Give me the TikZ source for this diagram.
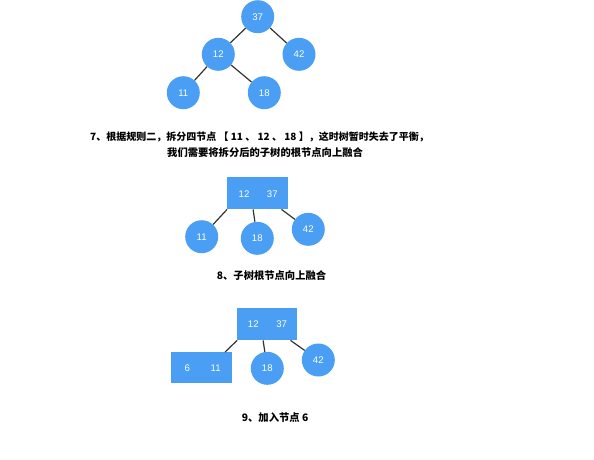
\documentclass[tikz,border=0pt]{standalone}
\usepackage{fontspec}
\setmainfont{Liberation Sans}
\newfontfamily\cjk{Noto Sans CJK SC}
\definecolor{nodeblue}{HTML}{4A9FF5}
\definecolor{edgegray}{HTML}{333333}
\tikzset{
  bnode/.style={circle, fill=nodeblue, minimum size=33pt, inner sep=0pt, text=white, font=\fontsize{9.6}{11}\selectfont},
  bbox/.style={rectangle, fill=nodeblue, inner sep=0pt, text=white, font=\fontsize{9.6}{11}\selectfont},
  num/.style={text=white, font=\fontsize{9.6}{11}\selectfont, inner sep=0pt},
  edge/.style={draw=edgegray, line width=1.2pt},
  captext/.style={font=\cjk\bfseries\fontsize{10.3}{12}\selectfont, inner sep=0pt, anchor=west}
}
\begin{document}
\begin{tikzpicture}[x=1pt, y=-1pt]
\useasboundingbox (0,0) rectangle (594,459);
% ---- figure 7 ----
\node[bnode] (a37) at (257.7,16.7) {37};
\node[bnode] (a12) at (218.3,54.3) {12};
\node[bnode] (a42) at (299,54.3) {42};
\node[bnode] (a11) at (183.3,92.7) {11};
\node[bnode] (a18) at (264.3,92.7) {18};
\draw[edge] (a37) -- (a12);
\draw[edge] (a37) -- (a42);
\draw[edge] (a12) -- (a11);
\draw[edge] (a12) -- (a18);
\node[captext, font=\cjk\bfseries\fontsize{10}{12}\selectfont] (t7a) at (90,137) {7、根据规则二，拆分四节点 【 11 、 12 、 18 】，这时树暂时失去了平衡，};
\node[captext] (t7b) at (167,152.5) {我们需要将拆分后的子树的根节点向上融合};
% ---- figure 8 ----
\node[bbox, minimum width=61pt, minimum height=32pt] (b1237) at (257.8,193.2) {};
\node[num] (b12) at (244,194) {12};
\node[num] (b37) at (272.3,194) {37};
\node[bnode] (b11) at (201.7,236.7) {11};
\node[bnode] (b18) at (257.3,238.3) {18};
\node[bnode] (b42) at (308.3,229.3) {42};
\draw[edge] (b1237.south west) -- (b11);
\draw[edge] ([xshift=26pt]b1237.south west) -- (b18);
\draw[edge] ([xshift=-7pt]b1237.south east) -- (b42);
\node[captext] (t8) at (216.7,276) {8、子树根节点向上融合};
% ---- figure 9 ----
\node[bbox, minimum width=60pt, minimum height=32pt] (c1237) at (267.3,324.2) {};
\node[num] (c12) at (253.3,324.3) {12};
\node[num] (c37) at (281.7,324.3) {37};
\node[bbox, minimum width=61pt, minimum height=31pt] (c611) at (201.3,367.8) {};
\node[num] (c6) at (187.3,368.3) {6};
\node[num] (c11) at (215.7,368.3) {11};
\node[bnode] (c18) at (267.3,368.3) {18};
\node[bnode] (c42) at (318.3,360) {42};
\draw[edge] (c1237.south west) -- ([xshift=-7pt]c611.north east);
\draw[edge] ([xshift=26pt]c1237.south west) -- (c18);
\draw[edge] ([xshift=-7pt]c1237.south east) -- (c42);
\node[captext] (t9) at (241.7,417.3) {9、加入节点 6};
\end{tikzpicture}
\end{document}
